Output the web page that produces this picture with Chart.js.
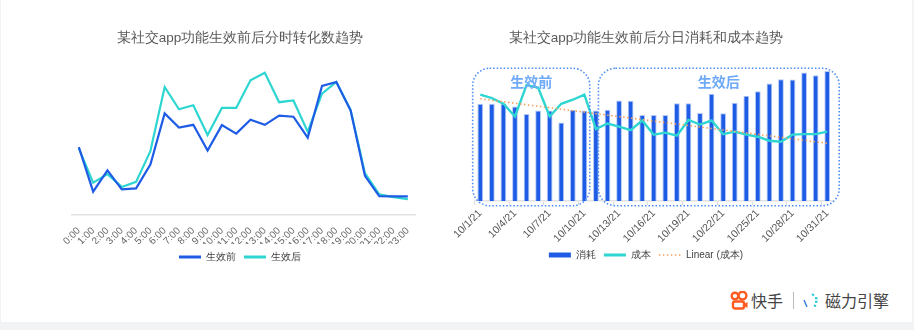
<!DOCTYPE html>
<html>
<head>
  <meta charset="utf-8">
  <title>生效前后趋势</title>
  <style>
    body {
      margin: 0;
      background: #f2f3f5;
      font-family: 'Noto Sans CJK SC', 'Noto Sans', sans-serif;
    }

    .card {
      position: absolute;
      left: 1px;
      top: 0;
      width: 911px;
      height: 322px;
      background: #fff;
    }

    canvas {
      position: absolute;
      top: 0;
    }

    #hourChart { left: 19px; }
    #dayChart { left: 431px; }

    /* logo row */
    .logo {
      position: absolute;
      top: 288px;
      left: 729px;
      display: flex;
      align-items: center;
      font-size: 16px;
      color: #444;
      white-space: nowrap;
    }
    .logo .sep {
      width: 1px;
      height: 17px;
      background: #bbb;
      margin: 0 8px 0 10px;
    }
  </style>
</head>
<body>
  <div class="card">
    <canvas id="hourChart" width="440" height="272"></canvas>
    <canvas id="dayChart" width="428" height="270"></canvas>

    <div class="logo">
      <svg width="18" height="19" viewBox="0 0 18 19">
        <circle cx="5" cy="5" r="3.3" fill="none" stroke="#ff5a1f" stroke-width="2.4"/>
        <circle cx="12.5" cy="4.6" r="3.9" fill="none" stroke="#ff5a1f" stroke-width="2.4"/>
        <rect x="3" y="10.5" width="11" height="7" rx="2" fill="none" stroke="#ff5a1f" stroke-width="2.4"/>
        <path d="M14 13 L17.5 11 L17.5 17 L14 15 Z" fill="#ff5a1f"/>
      </svg>
      <span style="margin-left:3px">快手</span>
      <span class="sep"></span>
      <svg width="18" height="19" viewBox="0 0 18 19">
        <path d="M2 9 L5 16" stroke="#2f7de1" stroke-width="1.4"/>
        <path d="M10 3 L12 4.5 M13 7 L15.5 7.5 M13 10.5 L15.5 11 M12 14 L14 15.5" stroke="#23c9d6" stroke-width="2"/>
      </svg>
      <span style="margin-left:5px">磁力引擎</span>
    </div>
  </div>

  <script src="https://cdn.jsdelivr.net/npm/chart.js"></script>

  <script>
    // ---- data: hourly conversions ----
    const hours = ['0:00','1:00','2:00','3:00','4:00','5:00','6:00','7:00','8:00','9:00','10:00','11:00',
                   '12:00','13:00','14:00','15:00','16:00','17:00','18:00','19:00','20:00','21:00','22:00','23:00'];
    const convBefore = [670, 230, 440, 253, 263, 497, 1003, 863, 890, 637, 887, 803,
                        940, 890, 980, 970, 763, 1273, 1313, 1030, 387, 187, 183, 183];
    const convAfter = [657, 320, 403, 277, 327, 630, 1263, 1043, 1083, 790, 1057, 1057,
                       1330, 1403, 1113, 1130, 823, 1197, 1313, 1037, 413, 203, 177, 157];

    // ---- data: daily spend & cost ----
    const days = [];
    for (let d = 1; d <= 31; d++) days.push('10/' + d + '/21');
    const spend = [9600, 9600, 9600, 9330, 8600, 8930, 8930, 7760, 9000, 8930, 8930,
                   9000, 9930, 9900, 8500, 8500, 8500, 9660, 9660, 8700, 10600,
                   8660, 9700, 10400, 10830, 11600, 12030, 12000, 12700, 12430, 12830];
    const cost = [21.0, 20.3, 19.2, 16.7, 22.9, 22.4, 16.7, 19.2, 20.0, 21.0, 14.2,
                  15.3, 14.7, 14.0, 15.9, 13.1, 13.5, 12.9, 16.0, 15.1, 15.9,
                  13.2, 13.7, 13.1, 12.7, 11.9, 11.7, 13.1, 13.2, 13.2, 13.7];

    const BLUE = '#1f5ce6';
    const CYAN = '#2dd6d0';
    const ORANGE = '#f4a15f';
    const TEXT = '#595959';

    // least squares trend for cost (the "Linear" series)
    function linearFit(vals) {
      const n = vals.length;
      let sx = 0, sy = 0, sxy = 0, sxx = 0;
      vals.forEach((v, i) => { sx += i; sy += v; sxy += i * v; sxx += i * i; });
      const b = (n * sxy - sx * sy) / (n * sxx - sx * sx);
      const a = (sy - b * sx) / n;
      return vals.map((_, i) => +(a + b * i).toFixed(2));
    }
    const costTrend = linearFit(cost);

    // invisible side axis, only used to reserve a fixed margin
    function spacer(position, width, max) {
      return {
        display: true,
        position: position,
        min: 0,
        max: max,
        ticks: { display: false },
        grid: { display: false },
        border: { display: false },
        afterFit(scale) { scale.width = width; }
      };
    }

    const lineLegend = {
      position: 'bottom',
      labels: {
        usePointStyle: true,
        pointStyleWidth: 22,
        boxHeight: 10,
        color: '#444',
        font: { size: 10 },
        padding: 8,
        generateLabels(chart) {
          return chart.data.datasets.map((ds, i) => ({
            text: ds.label,
            datasetIndex: i,
            pointStyle: 'line',
            strokeStyle: ds.legendColor || ds.borderColor,
            fillStyle: ds.legendColor || ds.borderColor,
            lineWidth: ds.legendWidth || 3,
            lineDash: ds.borderDash || [],
            fontColor: '#444'
          }));
        }
      }
    };

    // hourly chart
    new Chart(document.getElementById('hourChart'), {
      type: 'line',
      data: {
        labels: hours,
        datasets: [
          { label: '生效前', data: convBefore, borderColor: BLUE, borderWidth: 2.2, pointRadius: 0, tension: 0 },
          { label: '生效后', data: convAfter, borderColor: CYAN, borderWidth: 2.2, pointRadius: 0, tension: 0 }
        ]
      },
      options: {
        responsive: false,
        animation: false,
        plugins: {
          title: {
            display: true,
            text: '某社交app功能生效前后分时转化数趋势',
            color: TEXT,
            font: { size: 13.5, weight: 'normal' },
            padding: { top: 30, bottom: 16.8 }
          },
          legend: lineLegend,
          tooltip: { enabled: false }
        },
        scales: {
          x: {
            offset: true,
            grid: { display: false },
            border: { color: '#e3e3e3', width: 1.5 },
            ticks: { color: '#666', font: { size: 10 }, minRotation: 45, maxRotation: 45, autoSkip: false, padding: 2 },
            afterFit(scale) { scale.height = 29; }
          },
          y: spacer('left', 51.7, 1500),
          yR: spacer('right', 45, 1)
        }
      }
    });

    // boxes marking before / after periods
    const periodBoxes = {
      id: 'periodBoxes',
      afterDatasetsDraw(chart) {
        const { ctx, chartArea, scales } = chart;
        const x = scales.x;
        const boxes = [
          { text: '生效前', x1: x.getPixelForValue(0) - 7.6, x2: x.getPixelForValue(9) + 5.4 },
          { text: '生效后', x1: x.getPixelForValue(10) + 2.5, x2: x.getPixelForValue(30) + 12 }
        ];
        const top = chartArea.top + 4;
        const bottom = chartArea.bottom + 4.7;
        ctx.save();
        boxes.forEach(b => {
          ctx.beginPath();
          ctx.roundRect(b.x1, top, b.x2 - b.x1, bottom - top, 17);
          ctx.strokeStyle = '#4d8ef5';
          ctx.lineWidth = 1.6;
          ctx.setLineDash([1.5, 2]);
          ctx.stroke();
          ctx.setLineDash([]);
          ctx.fillStyle = '#6eaaf7';
          ctx.font = 'bold 14px "Noto Sans CJK SC"';
          ctx.textAlign = 'center';
          ctx.textBaseline = 'middle';
          ctx.fillText(b.text, (b.x1 + b.x2) / 2, top + 13.5);
        });
        ctx.restore();
      }
    };

    // daily chart
    new Chart(document.getElementById('dayChart'), {
      type: 'bar',
      data: {
        labels: days,
        datasets: [
          { type: 'line', label: '成本', data: cost, yAxisID: 'y1', borderColor: CYAN, borderWidth: 2.4,
            pointRadius: 0, tension: 0, order: 1 },
          { type: 'line', label: 'Linear (成本)', data: costTrend, yAxisID: 'y1', borderColor: ORANGE,
            borderWidth: 1.6, borderDash: [1.5, 2.5], pointRadius: 0, order: 0, legendWidth: 1.6 },
          { type: 'bar', label: '消耗', data: spend, yAxisID: 'y', backgroundColor: BLUE,
            borderColor: '#b4c9f4', borderWidth: { top: 1, left: 1, right: 1, bottom: 0 },
            barPercentage: 0.5, categoryPercentage: 1, order: 2, legendWidth: 5, legendColor: BLUE }
        ]
      },
      options: {
        responsive: false,
        animation: false,
        plugins: {
          title: {
            display: true,
            text: '某社交app功能生效前后分日消耗和成本趋势',
            color: TEXT,
            font: { size: 13.5, weight: 'normal' },
            padding: { top: 30, bottom: 18.1 }
          },
          legend: {
            ...lineLegend,
            labels: {
              ...lineLegend.labels,
              sort: (a, b) => [2, 0, 1].indexOf(a.datasetIndex) - [2, 0, 1].indexOf(b.datasetIndex)
            }
          },
          tooltip: { enabled: false }
        },
        scales: {
          x: {
            offset: true,
            grid: {
              display: true,
              drawOnChartArea: false,
              tickLength: 4,
              color: c => (c.index % 3 === 0 ? '#dcdcdc' : 'rgba(0,0,0,0)')
            },
            border: { color: '#e3e3e3', width: 1.5 },
            ticks: {
              color: '#555',
              font: { size: 10.5 },
              minRotation: 45,
              maxRotation: 45,
              autoSkip: false,
              padding: 2,
              callback: (v, i) => (i % 3 === 0 ? days[i] : '')
            },
            afterFit(scale) { scale.height = 41; }
          },
          y: spacer('left', 42.5, 13500),
          y1: spacer('right', 27, 27)
        }
      },
      plugins: [periodBoxes]
    });
  </script>
</body>
</html>
